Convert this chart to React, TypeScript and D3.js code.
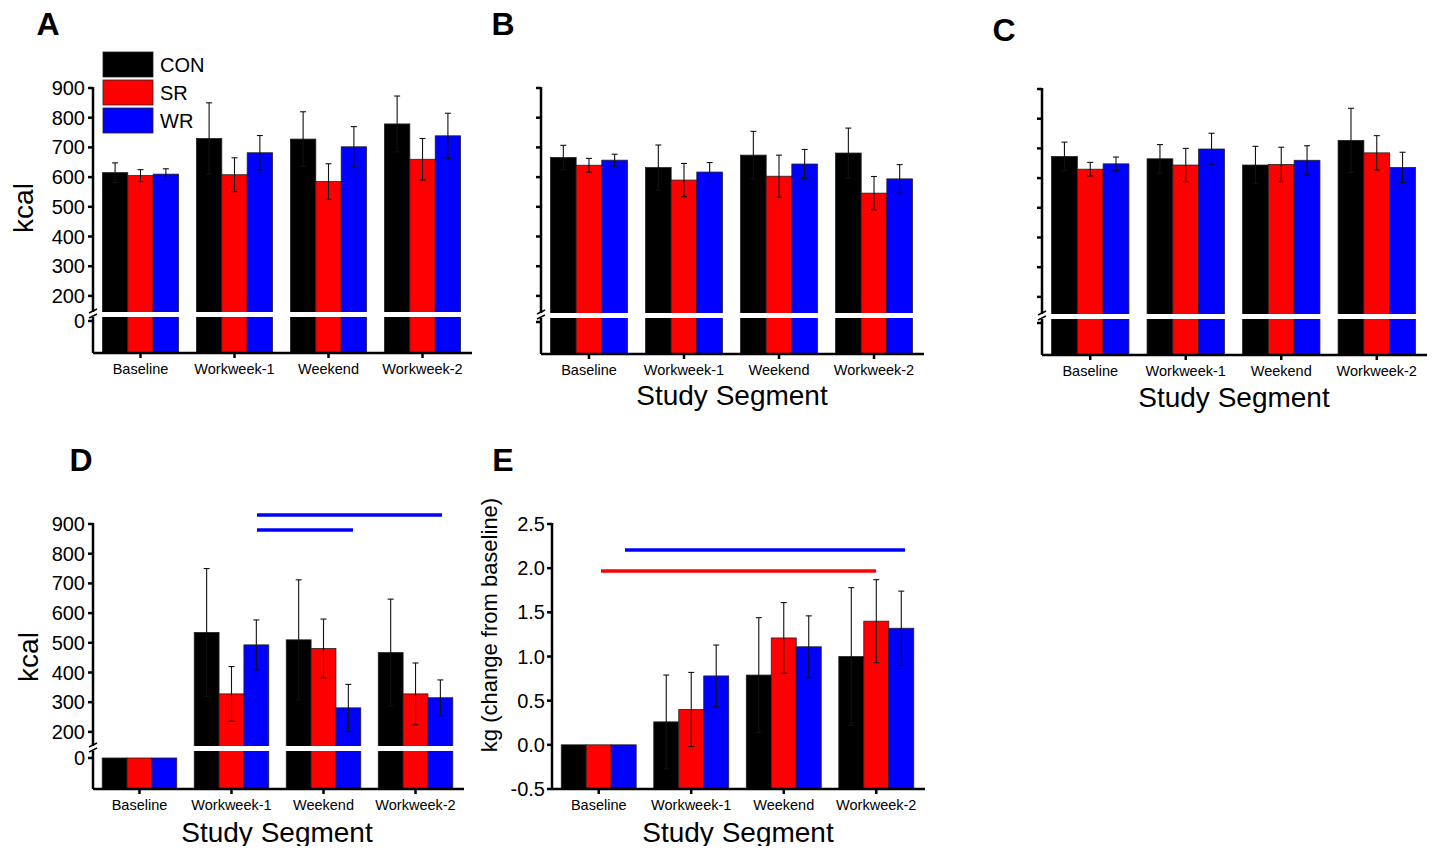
import * as d3 from 'd3';
import React, { useEffect, useRef } from 'react';

const segments = ['Baseline', 'Workweek-1', 'Weekend', 'Workweek-2'];
const groups = ['CON', 'SR', 'WR'];
const colors = ['#000000', '#ff0000', '#0000ff'];

// panel A
const aCon = [615, 730, 728, 779];
const aConErr = [33, 120, 92, 94];
const aSr = [605, 608, 585, 660];
const aSrErr = [20, 57, 60, 70];
const aWr = [610, 682, 702, 739];
const aWrErr = [18, 58, 68, 76];
// panel B
const bCon = [666, 632, 674, 681];
const bConErr = [41, 76, 80, 84];
const bSr = [640, 590, 603, 546];
const bSrErr = [23, 56, 71, 56];
const bWr = [657, 617, 644, 594];
const bWrErr = [20, 32, 49, 48];
// panel C
const cCon = [673, 665, 644, 727];
const cConErr = [48, 48, 63, 108];
const cSr = [630, 644, 646, 685];
const cSrErr = [23, 56, 58, 58];
const cWr = [648, 698, 660, 636];
const cWrErr = [23, 53, 49, 51];
// panel D
const dCon = [0, 535, 510, 467];
const dConErr = [0, 215, 202, 180];
const dSr = [0, 328, 481, 328];
const dSrErr = [0, 92, 99, 104];
const dWr = [0, 493, 281, 315];
const dWrErr = [0, 84, 79, 60];
// panel E
const eCon = [0, 0.26, 0.79, 1.0];
const eConErr = [0, 0.53, 0.65, 0.78];
const eSr = [0, 0.4, 1.21, 1.4];
const eSrErr = [0, 0.42, 0.4, 0.47];
const eWr = [0, 0.78, 1.11, 1.32];
const eWrErr = [0, 0.35, 0.35, 0.42];

const kcalTicks = [200, 300, 400, 500, 600, 700, 800, 900];
const kgTicks = [-0.5, 0, 0.5, 1.0, 1.5, 2.0, 2.5];

const FONT = 'Liberation Sans, Arial, sans-serif';

type Series = { vals: number[]; errs: number[] }[];

function drawBars(g: any, x: any, y: (v: number) => number, bottom: number, series: Series, gapY?: number) {
  const inner = d3.scaleBand<string>().domain(groups).range([0, x.bandwidth()]);
  segments.forEach((seg, si) => {
    const gx = x(seg);
    series.forEach((s, k) => {
      const bx = gx + inner(groups[k])!;
      const top = y(s.vals[si]);
      g.append('rect').attr('x', bx).attr('y', top).attr('width', inner.bandwidth()).attr('height', bottom - top)
        .attr('fill', colors[k]).attr('stroke', '#222').attr('stroke-width', 0.8);
    });
    series.forEach((s, k) => {
      if (!s.errs[si]) return;
      const cx = gx + inner(groups[k])! + inner.bandwidth() / 2;
      const y1 = y(s.vals[si] + s.errs[si]);
      const y2 = y(s.vals[si] - s.errs[si]);
      g.append('line').attr('x1', cx).attr('x2', cx).attr('y1', y1).attr('y2', y2).attr('stroke', '#111').attr('stroke-width', 1.1);
      [y1, y2].forEach((yy) => g.append('line').attr('x1', cx - 3).attr('x2', cx + 3).attr('y1', yy).attr('y2', yy).attr('stroke', '#111').attr('stroke-width', 1.1));
    });
    if (gapY !== undefined && series.some((s) => y(s.vals[si]) < gapY)) {
      g.append('rect').attr('x', gx - 1).attr('y', gapY - 2).attr('width', x.bandwidth() + 2).attr('height', 5).attr('fill', '#fff');
    }
  });
}

function xAxis(g: any, x: any, x0: number, x1: number, bottom: number) {
  g.append('line').attr('x1', x0).attr('x2', x1 + 2).attr('y1', bottom).attr('y2', bottom).attr('stroke', '#000').attr('stroke-width', 2.5);
  segments.forEach((seg) => {
    const cx = x(seg) + x.bandwidth() / 2;
    g.append('line').attr('x1', cx).attr('x2', cx).attr('y1', bottom).attr('y2', bottom + 5).attr('stroke', '#000').attr('stroke-width', 2.5);
    g.append('text').attr('x', cx).attr('y', bottom + 21).attr('text-anchor', 'middle').attr('font-size', 14.5).attr('font-family', FONT).text(seg);
  });
}

function kcalPanel(svg: any, o: { x0: number; x1: number; top: number; bottom: number; zero: number; brk: number; labels: boolean; series: Series }) {
  const g = svg.append('g');
  const k = 29.7 / 100;
  const upper = d3.scaleLinear().domain([900, 200]).range([o.top, o.top + 700 * k]);
  const lower = d3.scaleLinear().domain([0, -100]).range([o.zero, o.zero + 100 * k]);
  const brkVal = upper.invert(o.brk);
  const y = (v: number) => (v > brkVal ? upper(v) : Math.min(lower(v), o.bottom));
  const x = d3.scaleBand<string>().domain(segments).range([o.x0, o.x1]).paddingInner(0.19).paddingOuter(0.1);
  drawBars(g, x, y, o.bottom, o.series, o.brk);
  // y axis with break
  g.append('line').attr('x1', o.x0).attr('x2', o.x0).attr('y1', o.top - 1).attr('y2', o.brk - 2).attr('stroke', '#000').attr('stroke-width', 2.5);
  g.append('line').attr('x1', o.x0).attr('x2', o.x0).attr('y1', o.brk + 3).attr('y2', o.bottom).attr('stroke', '#000').attr('stroke-width', 2.5);
  [o.brk - 3, o.brk + 2].forEach((yy) => g.append('line').attr('x1', o.x0 - 4).attr('x2', o.x0 + 4).attr('y1', yy + 2).attr('y2', yy - 2).attr('stroke', '#000').attr('stroke-width', 1.5));
  const ticks = kcalTicks.map((t) => ({ t, py: upper(t) })).concat([{ t: 0, py: lower(0) }]);
  ticks.forEach(({ t, py }) => {
    g.append('line').attr('x1', o.x0 - 5).attr('x2', o.x0).attr('y1', py).attr('y2', py).attr('stroke', '#000').attr('stroke-width', 2.5);
    if (o.labels) g.append('text').attr('x', o.x0 - 8).attr('y', py + 7).attr('text-anchor', 'end').attr('font-size', 20).attr('font-family', FONT).text(t);
  });
  xAxis(g, x, o.x0, o.x1, o.bottom);
}

const App: React.FC = () => {
  const ref = useRef<SVGSVGElement>(null);

  useEffect(() => {
    const svg = d3.select(ref.current);
    svg.selectAll('*').remove();
    const mk = (v: number[], e: number[]) => ({ vals: v, errs: e });

    kcalPanel(svg, { x0: 93, x1: 470, top: 88, bottom: 353, zero: 321, brk: 314, labels: true,
      series: [mk(aCon, aConErr), mk(aSr, aSrErr), mk(aWr, aWrErr)] });
    kcalPanel(svg, { x0: 541, x1: 922, top: 88, bottom: 354, zero: 322, brk: 315, labels: false,
      series: [mk(bCon, bConErr), mk(bSr, bSrErr), mk(bWr, bWrErr)] });
    kcalPanel(svg, { x0: 1042, x1: 1425, top: 89, bottom: 355, zero: 323, brk: 316, labels: false,
      series: [mk(cCon, cConErr), mk(cSr, cSrErr), mk(cWr, cWrErr)] });
    kcalPanel(svg, { x0: 93, x1: 462, top: 524, bottom: 789, zero: 758, brk: 748, labels: true,
      series: [mk(dCon, dConErr), mk(dSr, dSrErr), mk(dWr, dWrErr)] });

    // panel E
    const g = svg.append('g');
    const ye = d3.scaleLinear().domain([-0.5, 2.5]).range([789, 524]);
    const xe = d3.scaleBand<string>().domain(segments).range([552, 923]).paddingInner(0.19).paddingOuter(0.1);
    drawBars(g, xe, ye, 789, [mk(eCon, eConErr), mk(eSr, eSrErr), mk(eWr, eWrErr)]);
    g.append('line').attr('x1', 552).attr('x2', 552).attr('y1', 523).attr('y2', 789).attr('stroke', '#000').attr('stroke-width', 2.5);
    kgTicks.forEach((t) => {
      g.append('line').attr('x1', 547).attr('x2', 552).attr('y1', ye(t)).attr('y2', ye(t)).attr('stroke', '#000').attr('stroke-width', 2.5);
      g.append('text').attr('x', 545).attr('y', ye(t) + 7).attr('text-anchor', 'end').attr('font-size', 20).attr('font-family', FONT).text(t.toFixed(1));
    });
    xAxis(g, xe, 552, 923, 789);

    // significance bars
    const sig = (x1: number, x2: number, yy: number, c: string) =>
      svg.append('line').attr('x1', x1).attr('x2', x2).attr('y1', yy).attr('y2', yy).attr('stroke', c).attr('stroke-width', 3.5);
    sig(257, 442, 515, '#0000ff');
    sig(257, 353, 530, '#0000ff');
    sig(625, 905, 550, '#0000ff');
    sig(601, 876, 571, '#ff0000');

    // legend
    groups.forEach((gname, i) => {
      svg.append('rect').attr('x', 103).attr('y', 52 + i * 28).attr('width', 50).attr('height', 25).attr('fill', colors[i]).attr('stroke', '#222').attr('stroke-width', 0.8);
      svg.append('text').attr('x', 160).attr('y', 72 + i * 28).attr('font-size', 20).attr('font-family', FONT).text(gname);
    });

    // titles
    const txt = (x: number, y: number, s: string, size: number, bold = false, rot = false) => {
      const t = svg.append('text').attr('text-anchor', 'middle').attr('font-size', size).attr('font-family', FONT)
        .attr('font-weight', bold ? 'bold' : 'normal').text(s);
      if (rot) t.attr('transform', `translate(${x},${y}) rotate(-90)`);
      else t.attr('x', x).attr('y', y);
    };
    txt(48, 35, 'A', 32, true);
    txt(503, 35, 'B', 32, true);
    txt(1004, 41, 'C', 32, true);
    txt(81, 471, 'D', 32, true);
    txt(503, 471, 'E', 32, true);
    txt(732, 405, 'Study Segment', 28);
    txt(1234, 407, 'Study Segment', 28);
    txt(277, 842, 'Study Segment', 28);
    txt(738, 842, 'Study Segment', 28);
    txt(33, 208, 'kcal', 28, false, true);
    txt(38, 657, 'kcal', 28, false, true);
    txt(497, 625, 'kg (change from baseline)', 22, false, true);
  }, []);

  return <svg ref={ref} width={1439} height={854} style={{ display: 'block', margin: -8 }} />;
};

export default App;
